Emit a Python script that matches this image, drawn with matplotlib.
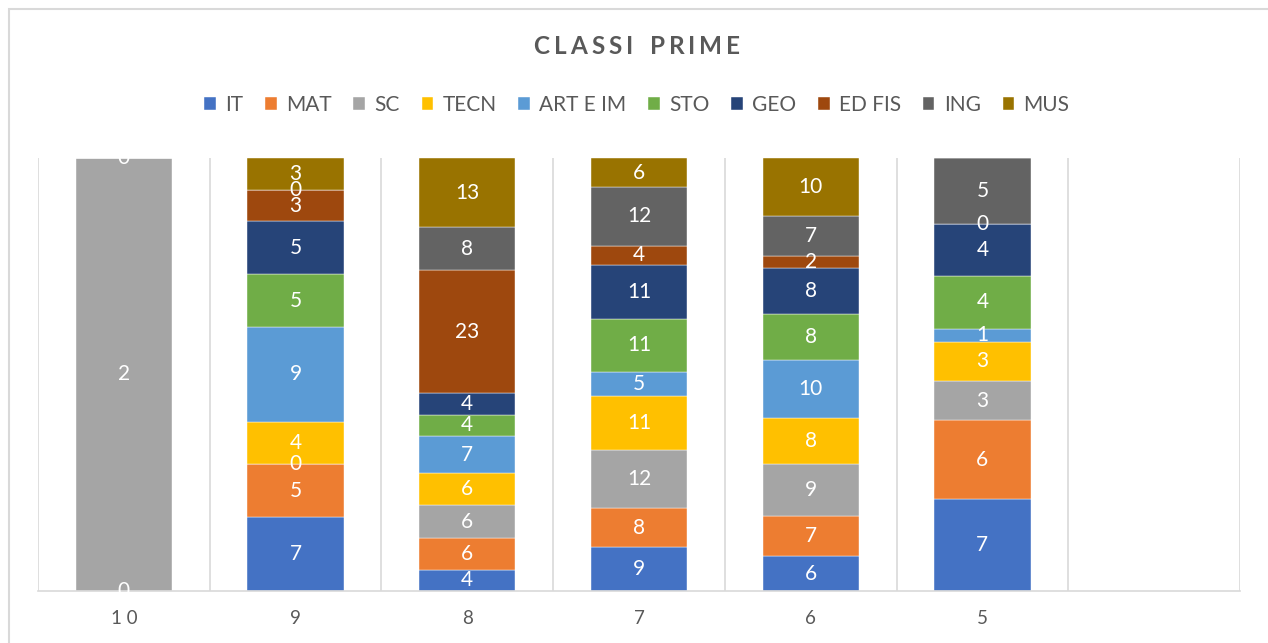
import numpy as np
import matplotlib.pyplot as plt
from matplotlib.patches import Rectangle

plt.rcParams["font.family"] = ["Lato", "DejaVu Sans"]

# categorie (l'ultima colonna è vuota)
classi = ["10", "9", "8", "7", "6", "5", ""]
materie = ["IT", "MAT", "SC", "TECN", "ART E IM", "STO", "GEO", "ED FIS", "ING", "MUS"]
colori = ["#4472C4", "#ED7D31", "#A5A5A5", "#FFC000", "#5B9BD5",
          "#70AD47", "#264478", "#9E480E", "#636363", "#997300"]

nan = np.nan
IT = [0, 7, 4, 9, 6, 7, nan]
MAT = [nan, 5, 6, 8, 7, 6, nan]
SC = [2, 0, 6, 12, 9, 3, nan]
TECN = [nan, 4, 6, 11, 8, 3, nan]
ART = [nan, 9, 7, 5, 10, 1, nan]
STO = [nan, 5, 4, 11, 8, 4, nan]
GEO = [nan, 5, 4, 11, 8, 4, nan]
EDFIS = [nan, 3, 23, 4, 2, 0, nan]
ING = [nan, 0, 8, 12, 7, 5, nan]
MUS = [0, 3, 13, 6, 10, nan, nan]

serie = np.array([IT, MAT, SC, TECN, ART, STO, GEO, EDFIS, ING, MUS], dtype=float)
tot = np.nansum(serie, axis=0)
tot[tot == 0] = 1
perc = np.nan_to_num(serie) / tot

fig = plt.figure(figsize=(12.68, 6.43), dpi=100)
ax = fig.add_axes([38 / 1268, 52 / 643, (1240 - 38) / 1268, (591 - 158) / 643])

x = np.arange(len(classi))
base = np.zeros(len(classi))
for i, nome in enumerate(materie):
    ax.bar(x, perc[i], 0.56, bottom=base, color=colori[i], label=nome,
           edgecolor="white", linewidth=0.3)
    for j in range(len(classi)):
        if not np.isnan(serie[i, j]):
            ax.text(x[j], base[j] + perc[i, j] / 2, f"{int(serie[i, j])}",
                    ha="center", va="center", color="white", fontsize=15)
    base += perc[i]

ax.set_xlim(-0.5, len(classi) - 0.5)
ax.set_ylim(0, 1)
ax.set_yticks([])
ax.set_xticks(x)
ax.set_xticklabels(["1 0"] + classi[1:], fontsize=13.5, color="#595959")
ax.tick_params(axis="x", length=0, pad=14)
for xv in np.arange(-0.5, len(classi), 1):
    ax.axvline(xv, color="#D9D9D9", linewidth=1.2, zorder=0)
for s in ["top", "left", "right"]:
    ax.spines[s].set_visible(False)
ax.spines["bottom"].set_color("#D9D9D9")
ax.spines["bottom"].set_linewidth(1.2)

# titolo con spaziatura tra le lettere
titolo = "CLASSI PRIME"
renderer = fig.canvas.get_renderer()
spazio = 4.0  # pixel extra tra le lettere
larghezze = []
for c in titolo:
    t = fig.text(0, 0, c if c != " " else "I", fontsize=17.5, fontweight="bold")
    w = t.get_window_extent(renderer).width
    if c == " ":
        w *= 1.2
    larghezze.append(w)
    t.remove()
totale = sum(larghezze) + spazio * (len(titolo) - 1)
xpix = 1268 / 2 - totale / 2 + 3
for c, w in zip(titolo, larghezze):
    if c != " ":
        fig.text(xpix / 1268, 1 - 47 / 643, c, ha="left", va="center",
                 fontsize=17.5, fontweight="bold", color="#595959")
    xpix += w + spazio

fig.legend(loc="center", bbox_to_anchor=(0.5 + 3 / 1268, 1 - 105 / 643), ncol=10,
           frameon=False, fontsize=15, handlelength=0.55, handleheight=0.6,
           handletextpad=0.45, columnspacing=1.05, labelcolor="#595959")

# bordo del grafico
fig.patches.append(Rectangle((9 / 1268, -0.1), 1.2, 1 - 9 / 643 + 0.1,
                             transform=fig.transFigure, fill=False,
                             edgecolor="#D9D9D9", linewidth=1.5))

fig.savefig("out.png", dpi=100)
